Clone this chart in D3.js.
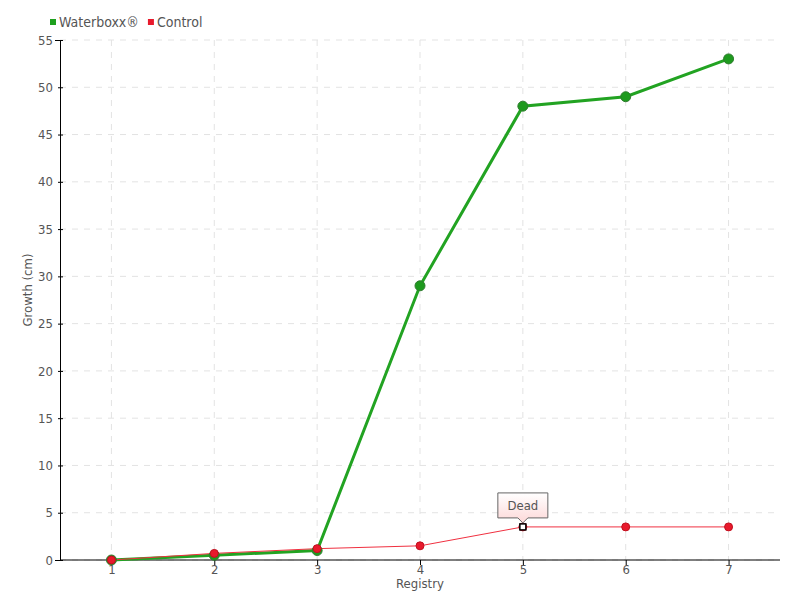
<!DOCTYPE html>
<html>
<head>
<meta charset="utf-8">
<script src="https://cdn.jsdelivr.net/npm/d3@7"></script>
<style>
  body { margin: 0; background: #fff; }
  text { font-family: "DejaVu Sans Condensed", "DejaVu Sans", sans-serif; font-stretch: condensed; fill: #555; }
</style>
</head>
<body>
<div id="chart"></div>
<script>
// Chart values
var registries = ["1", "2", "3", "4", "5", "6", "7"];
var waterboxx = [0, 0.5, 1, 29, 48, 49, 53];
var control = [0, 0.7, 1.2, 1.5, 3.5, 3.5, 3.5];
var yTicks = [0, 5, 10, 15, 20, 25, 30, 35, 40, 45, 50, 55];
var seriesNames = ["Waterboxx®", "Control"];
var noteText = "Dead";
var noteIndex = 4;

var margin = {top: 40, right: 20, bottom: 40, left: 60},
  width = 800 - margin.left - margin.right,
  height = 600 - margin.top - margin.bottom;

var svg = d3.select("#chart").append("svg")
  .attr("width", 800)
  .attr("height", 600);

var g = svg.append("g")
  .attr("transform", "translate(" + margin.left + "," + margin.top + ")");

var x = d3.scalePoint().domain(registries).range([0, width]).padding(0.5);
var y = d3.scaleLinear().domain([0, 55]).range([height, 0]);

// Grid
g.selectAll(".hgrid").data(yTicks).enter().append("line")
  .attr("x1", 0).attr("x2", width)
  .attr("y1", function(d) { return y(d); })
  .attr("y2", function(d) { return y(d); })
  .attr("stroke", "#e3e3e3").attr("stroke-dasharray", "6,6");
g.selectAll(".vgrid").data(registries).enter().append("line")
  .attr("x1", function(d) { return x(d); })
  .attr("x2", function(d) { return x(d); })
  .attr("y1", 0).attr("y2", height)
  .attr("stroke", "#e3e3e3").attr("stroke-dasharray", "6,6");

// Axes
var yAxis = g.append("g")
  .call(d3.axisLeft(y).tickValues(yTicks).tickSize(5).tickPadding(2));
yAxis.select(".domain").attr("stroke", "#000");
yAxis.selectAll(".tick line").attr("stroke", "#000").attr("transform", "translate(3,0)");
yAxis.selectAll("text").style("font-size", "13px").attr("fill", "#555");

var xAxis = g.append("g")
  .attr("transform", "translate(0," + height + ")")
  .call(d3.axisBottom(x).tickSize(5).tickPadding(0).tickSizeOuter(0));
xAxis.select(".domain").attr("stroke", "#000").attr("d", "M0,0H" + width);
xAxis.selectAll(".tick line").attr("stroke", "#000");
xAxis.selectAll("text").style("font-size", "13px").attr("fill", "#555");

g.append("text")
  .attr("x", x("4")).attr("y", height + 28)
  .attr("text-anchor", "middle")
  .style("font-size", "13px")
  .text("Registry");

g.append("text")
  .attr("transform", "translate(-28," + (height / 2 - 10) + ") rotate(-90)")
  .attr("text-anchor", "middle")
  .style("font-size", "13px")
  .text("Growth (cm)");

// Lines
var line = d3.line()
  .x(function(d, i) { return x(registries[i]); })
  .y(function(d) { return y(d); });

g.append("path").datum(waterboxx)
  .attr("d", line)
  .attr("fill", "none")
  .attr("stroke", "#22a322")
  .attr("stroke-width", 3);

g.append("path").datum(control)
  .attr("d", line)
  .attr("fill", "none")
  .attr("stroke", "#f03040")
  .attr("stroke-width", 1);

g.selectAll(".wdot").data(waterboxx).enter().append("circle")
  .attr("cx", function(d, i) { return x(registries[i]); })
  .attr("cy", function(d) { return y(d); })
  .attr("r", 5)
  .attr("fill", "#1e9a1e")
  .attr("stroke", "#2f7d2f")
  .attr("stroke-width", 1);

g.selectAll(".cdot").data(control).enter().append("circle")
  .attr("cx", function(d, i) { return x(registries[i]); })
  .attr("cy", function(d) { return y(d); })
  .attr("r", 4)
  .attr("fill", "#e8192c")
  .attr("stroke", "#c0101f")
  .attr("stroke-width", 1);

// Highlighted point with note
var nx = x(registries[noteIndex]), ny = y(control[noteIndex]);
g.append("rect")
  .attr("x", nx - 3).attr("y", ny - 3)
  .attr("width", 6).attr("height", 6)
  .attr("fill", "#fff").attr("stroke", "#000").attr("stroke-width", 1.5);

var grad = svg.append("defs").append("linearGradient")
  .attr("id", "noteGrad").attr("x1", 0).attr("y1", 0).attr("x2", 0).attr("y2", 1);
grad.append("stop").attr("offset", "0%").attr("stop-color", "#fff");
grad.append("stop").attr("offset", "100%").attr("stop-color", "#fdd8d8");

var bw = 50, bh = 25, by = ny - 34;
g.append("path")
  .attr("d", "M" + (nx - bw / 2) + "," + by +
    "h" + bw + "v" + bh + "h" + (-bw / 2 + 5) + "l-5,5l-5,-5H" + (nx - bw / 2) + "Z")
  .attr("fill", "url(#noteGrad)")
  .attr("stroke", "#666")
  .attr("stroke-width", 1);
g.append("text")
  .attr("x", nx).attr("y", by + 17)
  .attr("text-anchor", "middle")
  .style("font-size", "13px")
  .text(noteText);

// Legend
var legendColors = ["#1ea01e", "#e8192c"];
var lx = 50;
seriesNames.forEach(function(name, i) {
  svg.append("rect")
    .attr("x", lx).attr("y", 19)
    .attr("width", 6).attr("height", 6)
    .attr("fill", legendColors[i]);
  var t = svg.append("text")
    .attr("x", lx + 9).attr("y", 27)
    .style("font-size", "14px")
    .text(name);
  lx += 9 + t.node().getComputedTextLength() + 9;
});
</script>
</body>
</html>
